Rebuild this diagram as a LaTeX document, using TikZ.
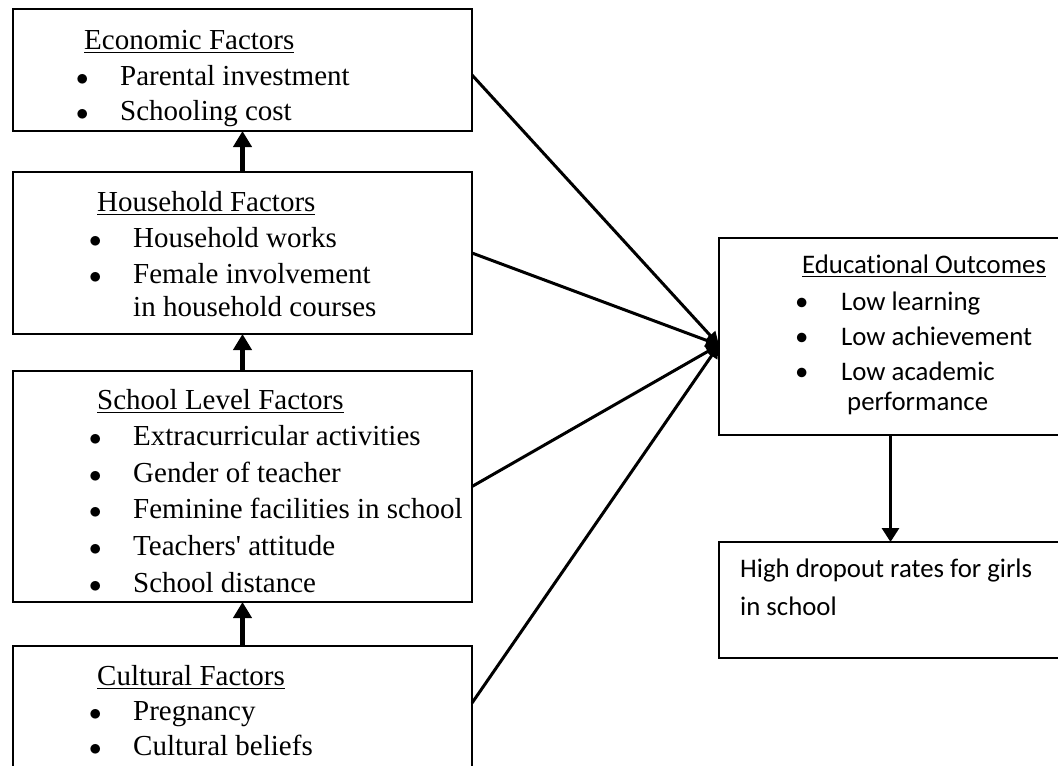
\documentclass[tikz,border=0pt]{standalone}
\usepackage{fontspec}
\setmainfont{Liberation Serif}
\newfontfamily\calfont[Ligatures={NoCommon}]{Carlito}
\usetikzlibrary{arrows.meta}
\newcommand{\undl}[1]{\setbox0\hbox{#1}\rlap{\rule[-4pt]{\wd0}{1.5pt}}\box0}
\newcommand{\bul}{\makebox[44pt][l]{$\bullet$}}

\begin{document}
\begin{tikzpicture}[x=1pt,y=-1pt,
  box/.style={draw=black,line width=2pt,outer sep=0pt,inner sep=0pt,anchor=north west},
  txt/.style={anchor=base west,inner sep=0pt,font=\fontsize{29}{32}\selectfont},
  ctxt/.style={anchor=base west,inner sep=0pt,font=\calfont\fontsize{26.8}{30}\selectfont},
  uparr/.style={line width=4.5pt,-{Triangle[width=18pt,length=16pt]}},
  link/.style={line width=3pt,-{Triangle[width=13pt,length=13pt]}},
  downarr/.style={line width=3pt,-{Triangle[width=17pt,length=14pt]}}]
\useasboundingbox (0,0) rectangle (1058,766);
\clip (0,0) rectangle (1058,766);
\node[box,minimum width=459pt,minimum height=122pt] (eco) at (13,9) {};
\node[box,minimum width=459pt,minimum height=162pt] (house) at (13,172) {};
\node[box,minimum width=459pt,minimum height=231pt] (school) at (13,371) {};
\node[box,minimum width=459pt,minimum height=160pt] (cult) at (13,646) {};
\node[box,minimum width=343pt,minimum height=197pt] (out) at (719,238) {};
\node[box,minimum width=343pt,minimum height=116pt] (drop) at (719,542) {};
\node[txt] (ecoT) at (84,49) {\undl{Economic Factors}};
\node[txt] (eco1) at (76,85) {\bul Parental investment};
\node[txt] (eco2) at (76,120) {\bul Schooling cost};
\node[txt] (houseT) at (97,211) {\undl{Household Factors}};
\node[txt] (house1) at (89,247) {\bul Household works};
\node[txt] (house2) at (89,283) {\bul Female involvement};
\node[txt] (house3) at (133,316) {in household courses};
\node[txt] (schoolT) at (97,409) {\undl{School Level Factors}};
\node[txt] (school1) at (89,445) {\bul Extracurricular activities};
\node[txt] (school2) at (89,482) {\bul Gender of teacher};
\node[txt] (school3) at (89,518) {\bul Feminine facilities in school};
\node[txt] (school4) at (89,555) {\bul Teachers\textquotesingle{} attitude};
\node[txt] (school5) at (89,592) {\bul School distance};
\node[txt] (cultT) at (97,685) {\undl{Cultural Factors}};
\node[txt] (cult1) at (89,720) {\bul Pregnancy};
\node[txt] (cult2) at (89,755) {\bul Cultural beliefs};
\node[ctxt] (outT) at (802,273) {\undl{Educational Outcomes}};
\node[ctxt] (out1) at (795,310) {\makebox[46pt][l]{\textbullet}Low learning};
\node[ctxt] (out2) at (795,345) {\makebox[46pt][l]{\textbullet}Low achievement};
\node[ctxt] (out3) at (795,380) {\makebox[46pt][l]{\textbullet}Low academic};
\node[ctxt] (out4) at (847,410) {performance};
\node[ctxt] (drop1) at (740,577) {High dropout rates for girls};
\node[ctxt] (drop2) at (740,615) {in school};
\coordinate (hub) at (719,345);
\draw[link] ([yshift=-5pt]eco.east) -- (hub);
\draw[link] (house.east) -- (hub);
\draw[link] (school.east) -- (hub);
\draw[link] ([yshift=-57pt]cult.north east) -- (hub);
\draw[uparr] (house.north) -- (eco.south);
\draw[uparr] (school.north) -- (house.south);
\draw[uparr] (cult.north) -- (school.south);
\draw[downarr] (out.south) -- (drop.north);
\end{tikzpicture}
\end{document}
